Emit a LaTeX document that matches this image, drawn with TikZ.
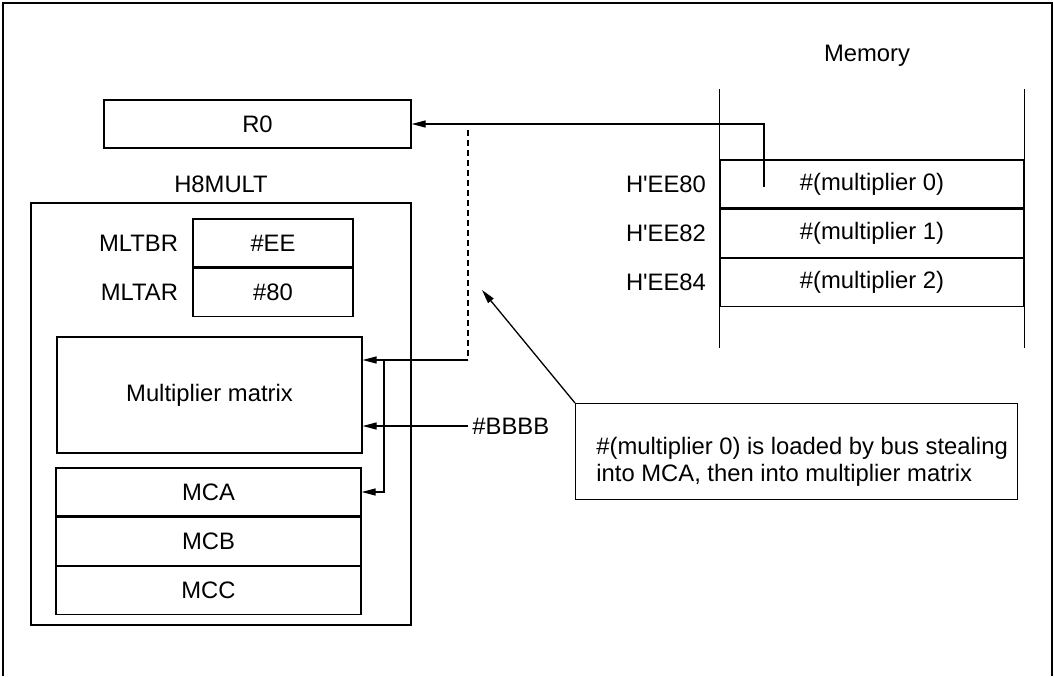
\documentclass[tikz,border=0pt]{standalone}
\usepackage{fontspec}
\setmainfont{Liberation Sans}
\usetikzlibrary{positioning,arrows.meta}
\tikzset{
  >={Triangle[length=7pt,width=3.5pt]},
  wire/.style={line width=0.65pt},
  reg/.style={rectangle, draw, wire, inner sep=0pt,
    minimum width=152.5pt, minimum height=24pt},
  tag/.style={inner sep=0pt},
}

\begin{document}
\begin{tikzpicture}[x=0.5pt, y=-0.5pt, node distance=0pt,
  every node/.style={font=\fontsize{11.9}{13.5}\selectfont}]
  \useasboundingbox (0,0) rectangle (1054,676);
  \draw[line width=1pt] (3,676) -- (3,3) -- (1052,3) -- (1052,676);

  % register and H8MULT block
  \node[reg, minimum width=153.5pt] (r0) at (257.5,124) {R0};
  \node[draw, wire, inner sep=0pt, minimum width=190pt, minimum height=211pt] (h8) at (221,414) {};
  \node (h8name) at (221,184) {H8MULT};
  \node[reg, minimum width=80pt] (mltbr) at (273,243) {\#EE};
  \node[reg, minimum width=80pt, below=of mltbr] (mltar) {\#80};
  \node[tag, left=7pt of mltbr] (mltbrname) {MLTBR};
  \node[tag, left=7pt of mltar] (mltarname) {MLTAR};
  \node[reg, minimum height=58pt] (mm) at (209.5,395) {Multiplier matrix};
  \node[reg] (mca) at (208.5,492) {MCA};
  \node[reg, below=of mca] (mcb) {MCB};
  \node[reg, below=of mcb] (mcc) {MCC};

  % memory map
  \node (memname) at (867,56) {Memory};
  \node[reg, minimum width=152pt] (cell0) at (872,184) {\#(multiplier 0)};
  \node[reg, minimum width=152pt, below=of cell0] (cell1) {\#(multiplier 1)};
  \node[reg, minimum width=152pt, below=of cell1] (cell2) {\#(multiplier 2)};
  \node[tag, left=6.5pt of cell0] (adr0) {H\textquotesingle EE80};
  \node[tag, left=6.5pt of cell1] (adr1) {H\textquotesingle EE82};
  \node[tag, left=6.5pt of cell2] (adr2) {H\textquotesingle EE84};
  \draw[wire] ([yshift=35pt]cell0.north west) -- ([yshift=-20.5pt]cell2.south west);
  \draw[wire] ([yshift=35pt]cell0.north east) -- ([yshift=-20.5pt]cell2.south east);

  % transfers
  \coordinate (tap) at (764,187);
  \coordinate (split) at (468,124);
  \coordinate (turn) at (468,360);
  \coordinate (bus) at (384,360);
  \draw[wire, ->] (tap) |- (r0.east);
  \draw[wire, dash pattern=on 3pt off 2pt] ([yshift=-3pt]split) -- (turn);
  \draw[wire, ->] (turn) -- (turn -| mm.east);
  \draw[wire, ->] (bus) |- (mca.east);
  \node[anchor=west, inner sep=2pt] (bbbb) at (468,426) {\#BBBB};
  \draw[wire, ->] (bbbb.west) -- (bbbb.west -| mm.east);

  % note
  \node[draw, wire, anchor=north west, minimum width=221pt, minimum height=48pt] (note) at (575,403) {};
  \node[anchor=north west, align=left, inner sep=0pt] (notetext) at (596,437)
    {\#(multiplier 0) is loaded by bus stealing\\into MCA, then into multiplier matrix};
  \coordinate (pointer) at (482,290);
  \draw[wire, ->] (note.north west) -- (pointer);
\end{tikzpicture}
\end{document}
